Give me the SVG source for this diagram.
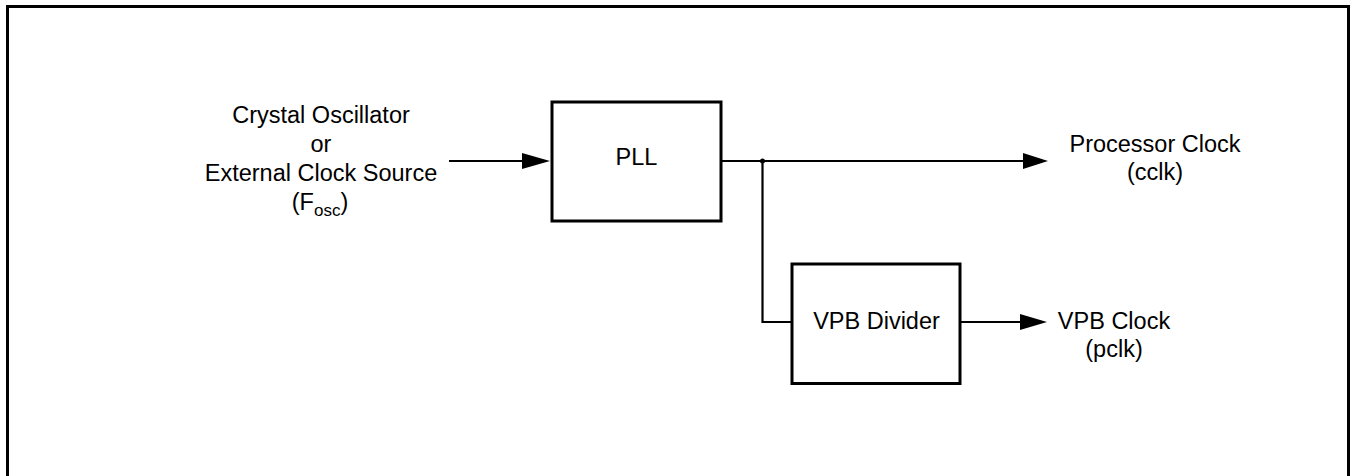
<svg xmlns="http://www.w3.org/2000/svg" width="1351" height="476" viewBox="0 0 1351 476">
<style>
.box{fill:#fff;stroke:#000;stroke-width:3}
.wire{fill:none;stroke:#000;stroke-width:2.2}
.head{fill:#000;stroke:none}
text{font-family:"Liberation Sans",Arial,sans-serif;font-size:23.5px;fill:#000;text-anchor:middle}
.sub{font-size:17px}
</style>
<rect x="0" y="0" width="1351" height="476" fill="#fff"/>
<path d="M7.5,480 V6.5 H1348.5 V480" fill="none" stroke="#000" stroke-width="3"/>
<g id="source">
<text x="321" y="123">Crystal Oscillator</text>
<text x="321" y="152">or</text>
<text x="321" y="181">External Clock Source</text>
<text x="320" y="210">(F<tspan class="sub" dy="6">osc</tspan><tspan dy="-6">)</tspan></text>
</g>
<g id="pll">
<rect class="box" x="552" y="102" width="169" height="119"/>
<text x="636.5" y="165">PLL</text>
</g>
<g id="vpb-divider">
<rect class="box" x="792" y="264" width="168" height="119.5"/>
<text x="876.5" y="329">VPB Divider</text>
</g>
<g id="processor-clock">
<text x="1155" y="152">Processor Clock</text>
<text x="1155" y="180">(cclk)</text>
</g>
<g id="vpb-clock">
<text x="1114" y="329">VPB Clock</text>
<text x="1114" y="357">(pclk)</text>
</g>
<g id="connectors">
<path class="wire" d="M449,161 H524"/>
<polygon class="head" points="522,153 550,161 522,169"/>
<path class="wire" d="M721,161 H1025"/>
<polygon class="head" points="1023,153 1048,161 1023,169"/>
<circle cx="762.5" cy="161" r="2.5" fill="#000"/>
<path class="wire" d="M762.5,161 V322 H792"/>
<path class="wire" d="M960,322 H1022"/>
<polygon class="head" points="1020,314 1047,322 1020,330"/>
</g>
</svg>
